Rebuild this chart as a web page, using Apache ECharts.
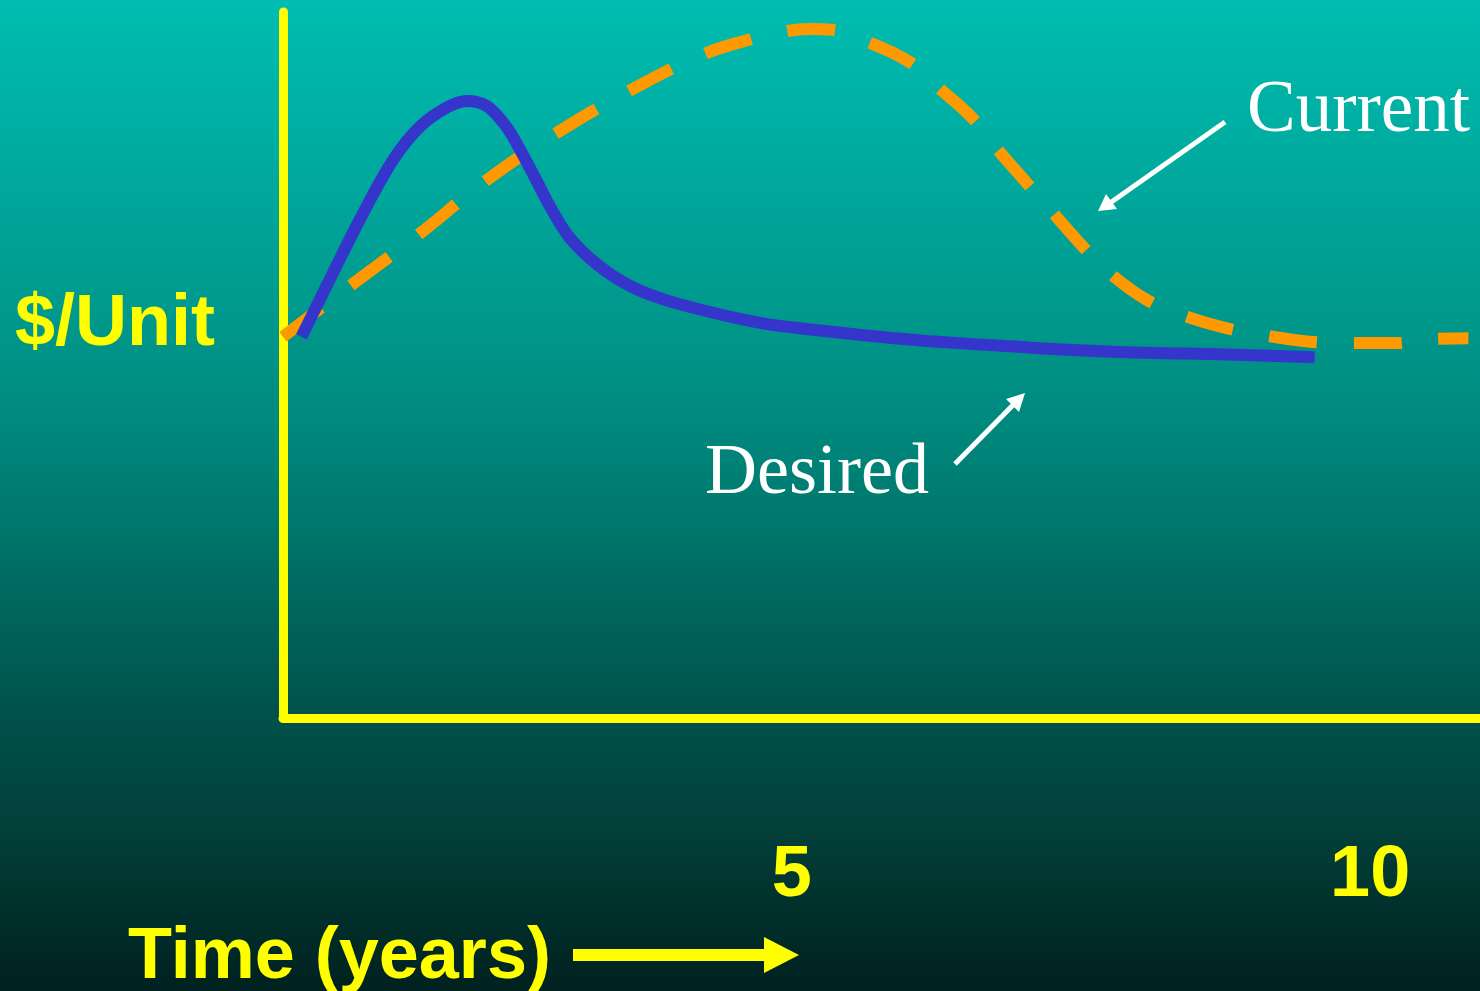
<!DOCTYPE html>
<html>
<head>
<meta charset="utf-8">
<title>$/Unit over time</title>
<script src="https://cdn.jsdelivr.net/npm/echarts@6/dist/echarts.min.js"></script>
<style>
  html, body { margin: 0; padding: 0; width: 100%; height: 100%; overflow: hidden; }
  #chart { width: 1480px; height: 991px; }
</style>
</head>
<body>
<div id="chart"></div>
<script>
// Time in years
const xTicks = [5, 10];

// Current cost per unit: [year, $/unit]
const currentYears = [0.6, 1.18, 1.79, 2.33, 2.94, 3.58, 4.22, 4.61, 4.92, 5.16, 5.33, 5.65, 6.02, 6.26, 6.56, 6.77, 7.03, 7.25, 7.52, 7.75, 8.07, 8.37, 8.76, 9.09, 9.48, 9.81, 10.22, 10.54, 10.85];
const currentValues = [54.0, 61.2, 68.7, 75.8, 82.6, 88.7, 93.9, 96.0, 97.2, 97.6, 97.5, 95.8, 92.9, 89.4, 85.0, 80.7, 75.8, 71.7, 66.7, 63.0, 59.2, 57.1, 55.2, 54.2, 53.3, 53.1, 53.1, 53.7, 53.8];

// Desired cost per unit: [year, $/unit]
const desiredYears = [0.76, 1.01, 1.27, 1.55, 1.78, 2.02, 2.19, 2.36, 2.52, 2.65, 2.78, 2.91, 3.08, 3.32, 3.60, 3.89, 4.32, 4.75, 5.18, 5.76, 6.17, 7.03, 7.90, 8.76, 9.52];
const desiredValues = [54.0, 62.3, 70.8, 79.0, 83.7, 86.5, 87.4, 86.7, 84.0, 80.5, 76.5, 72.4, 68.0, 64.2, 61.2, 59.3, 57.4, 55.9, 55.0, 54.0, 53.4, 52.5, 51.8, 51.5, 51.1];

const pairs = (xs, ys) => xs.map((x, i) => [x, ys[i]]);

const YELLOW = '#FFFF00';
const SANS = '"Liberation Sans", Arial, sans-serif';
const SERIF = '"Liberation Serif", "Times New Roman", serif';

const chart = echarts.init(document.getElementById('chart'), null, { renderer: 'canvas' });

chart.setOption({
  animation: false,
  backgroundColor: {
    type: 'linear', x: 0, y: 0, x2: 0, y2: 1,
    colorStops: [
      { offset: 0.00, color: '#00BDB1' },
      { offset: 0.33, color: '#00978B' },
      { offset: 0.45, color: '#00857A' },
      { offset: 0.72, color: '#00524B' },
      { offset: 0.85, color: '#023D37' },
      { offset: 1.00, color: '#00211F' }
    ]
  },
  grid: { left: 283, right: 0, top: 12, bottom: 273, containLabel: false, outerBoundsMode: 'none' },
  xAxis: {
    type: 'value',
    min: 0.6,
    max: 10.95,
    axisLine: { show: true, onZero: true, lineStyle: { color: YELLOW, width: 9 } },
    axisTick: { show: false },
    splitLine: { show: false },
    axisLabel: {
      show: true,
      customValues: xTicks,
      margin: 122,
      color: YELLOW,
      fontFamily: SANS,
      fontWeight: 'bold',
      fontSize: 72
    }
  },
  yAxis: {
    type: 'value',
    min: 0,
    max: 100,
    axisLine: { show: true, lineStyle: { color: YELLOW, width: 9 } },
    axisTick: { show: false },
    splitLine: { show: false },
    axisLabel: { show: false }
  },
  series: [
    {
      name: 'Current',
      type: 'line',
      data: pairs(currentYears, currentValues),
      smooth: 0.4,
      showSymbol: false,
      clip: false,
      z: 3,
      lineStyle: { color: '#FF9900', width: 12, type: [48, 37], cap: 'butt' }
    },
    {
      name: 'Desired',
      type: 'line',
      data: pairs(desiredYears, desiredValues),
      smooth: 0.35,
      showSymbol: false,
      clip: false,
      z: 4,
      lineStyle: { color: '#3535CC', width: 12, cap: 'butt' }
    }
  ],
  graphic: [
    {
      type: 'text', z: 10, x: 15, y: 325,
      style: { text: '$/Unit', fill: YELLOW, font: 'bold 72px ' + SANS, verticalAlign: 'middle' }
    },
    {
      type: 'text', z: 10, x: 128, y: 958,
      style: { text: 'Time (years)', fill: YELLOW, font: 'bold 72px ' + SANS, verticalAlign: 'middle' }
    },
    // arrow after the time label
    {
      type: 'polygon', z: 10,
      shape: { points: [[573, 949], [764, 949], [764, 937], [799, 955], [764, 973], [764, 961], [573, 961]] },
      style: { fill: YELLOW }
    },
    {
      type: 'text', z: 10, x: 1247, y: 112,
      style: { text: 'Current', fill: '#FFFFFF', font: '73px ' + SERIF, verticalAlign: 'middle' }
    },
    {
      type: 'line', z: 10,
      shape: { x1: 1225, y1: 122, x2: 1110, y2: 203 },
      style: { stroke: '#FFFFFF', lineWidth: 5 }
    },
    {
      type: 'polygon', z: 10,
      shape: { points: [[1098, 211], [1106, 194], [1117, 209]] },
      style: { fill: '#FFFFFF' }
    },
    {
      type: 'text', z: 10, x: 705, y: 474,
      style: { text: 'Desired', fill: '#FFFFFF', font: '72px ' + SERIF, verticalAlign: 'middle' }
    },
    {
      type: 'line', z: 10,
      shape: { x1: 955, y1: 464, x2: 1016, y2: 402 },
      style: { stroke: '#FFFFFF', lineWidth: 5 }
    },
    {
      type: 'polygon', z: 10,
      shape: { points: [[1025, 393], [1006, 399], [1019, 412]] },
      style: { fill: '#FFFFFF' }
    }
  ]
});
</script>
</body>
</html>
